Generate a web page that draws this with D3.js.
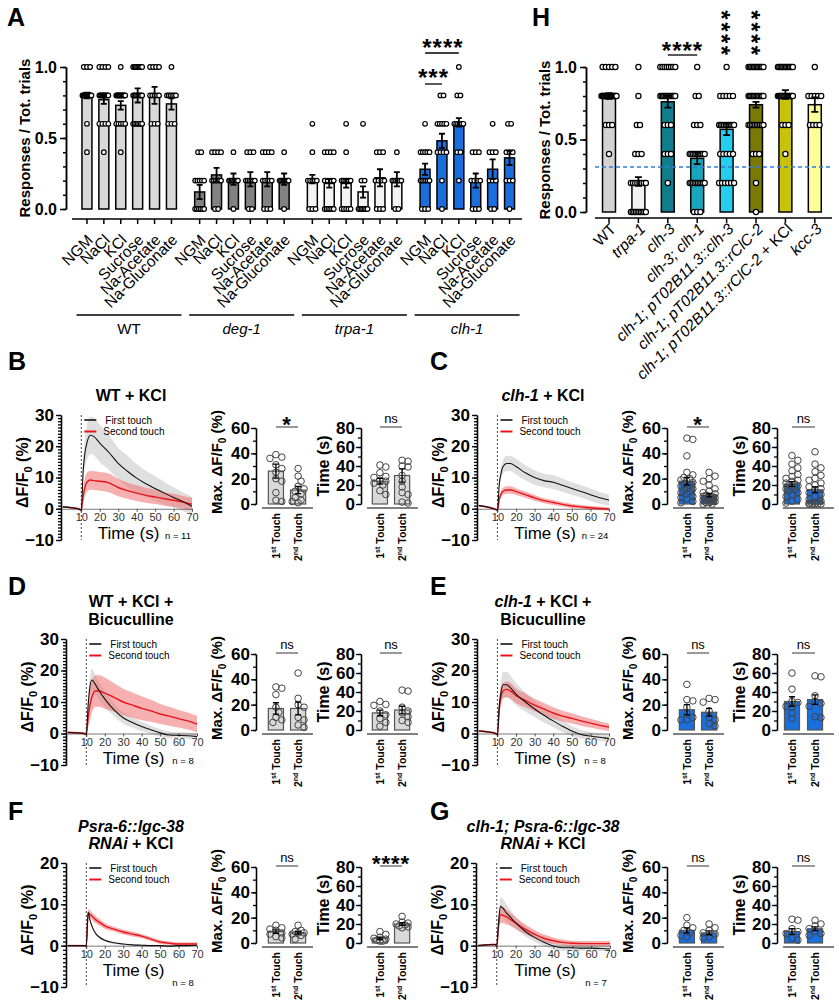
<!DOCTYPE html>
<html>
<head>
<meta charset="utf-8">
<script src="https://cdn.jsdelivr.net/npm/d3@7"></script>
<style>
  body { margin: 0; background: #fff; }
  svg { display: block; font-family: "Liberation Sans", Arial, Helvetica, sans-serif; }
</style>
</head>
<body>
<svg id="fig" width="839" height="1000"></svg>
<script>
// ---------- panel A : response ratio per solution ----------
const aGroups = ["WT", "deg-1", "trpa-1", "clh-1"];
const aConditions = ["NGM", "NaCl", "KCl", "Sucrose", "Na-Acetate", "Na-Gluconate"];
const aMean = [
  [0.80, 0.77, 0.73, 0.80, 0.80, 0.74],
  [0.12, 0.24, 0.21, 0.21, 0.21, 0.21],
  [0.21, 0.18, 0.18, 0.12, 0.22, 0.21],
  [0.28, 0.48, 0.61, 0.20, 0.28, 0.36]];
const aSem = [
  [0.02, 0.03, 0.03, 0.05, 0.06, 0.04],
  [0.05, 0.05, 0.04, 0.05, 0.05, 0.04],
  [0.03, 0.03, 0.03, 0.04, 0.06, 0.05],
  [0.04, 0.05, 0.03, 0.05, 0.07, 0.05]];
// animals per response level, levels = 1.0 0.8 0.6 0.4 0.2 0.0
const levels = [1.0, 0.8, 0.6, 0.4, 0.2, 0.0];
const aCounts = [
  [[3,14,1,1,0,0],[4,10,4,1,0,0],[1,12,5,1,0,0],[8,8,7,0,0,0],[4,5,3,0,0,0],[1,6,3,0,0,0]],
  [[0,0,0,2,5,6],[0,0,0,4,6,2],[0,0,0,1,8,1],[0,0,0,3,6,2],[0,0,0,4,5,3],[0,0,0,1,8,1]],
  [[0,0,1,1,5,3],[0,0,0,4,4,6],[0,0,1,1,6,5],[0,0,1,0,2,7],[0,0,0,3,4,3],[0,0,0,1,6,2]],
  [[0,0,1,5,6,3],[0,2,5,4,1,1],[1,2,6,2,1,0],[0,0,0,3,4,3],[0,0,1,3,3,2],[0,0,2,3,3,1]]];
const aFill = ["#d9d9d9", "#828282", "#f3f3f3", "#1a6fdc"];

// ---------- panel H ----------
const hGenotypes = ["WT", "trpa-1", "clh-3", "clh-3; clh-1", "clh-1; pT02B11.3::clh-3",
  "clh-1; pT02B11.3::rClC-2", "clh-1; pT02B11.3::rClC-2 + KCl", "kcc-3"];
const hMean = [0.80, 0.21, 0.76, 0.37, 0.57, 0.74, 0.81, 0.74];
const hSem = [0.02, 0.03, 0.04, 0.04, 0.04, 0.02, 0.03, 0.05];
const hCounts = [[5,20,3,1,0,0],[1,1,2,3,8,10],[8,12,3,3,1,0],[1,2,3,10,10,3],
  [1,5,10,5,6,0],[12,12,10,3,1,1],[12,15,3,1,0,0],[1,5,4,0,0,0]];
const hThreshold = 0.31;
const hFill = ["#d3d3d3", "#f2f2f2", "#0f7d8b", "#17a6bc", "#25cdee", "#7a7806", "#c9c20b", "#ffff99"];

// ---------- calcium traces (B-G) ----------
const traceT = [0, 5, 9, 10, 11, 12, 13, 15, 17, 20, 25, 30, 35, 40, 45, 50, 55, 60, 65, 70];
const bFirst     = [0.6, 0.3, -0.2, -0.5, 12, 18, 21, 23.5, 23, 21, 18, 14.5, 12, 9.8, 8, 6.5, 5, 3.6, 2.3, 0.8];
const bFirstSem  = [0.3, 0.3, 0.3, 0.3, 3, 4.5, 5.5, 6, 6, 6, 5.5, 5, 5, 4.5, 4.2, 4, 3.6, 3.3, 3, 3];
const bSecond    = [0.6, 0.3, -0.2, -0.5, 4, 7, 8.5, 9.2, 9, 8.8, 8.3, 6.8, 5.8, 5, 4.3, 3.8, 3.2, 2.7, 2.1, 1.5];
const bSecondSem = [0.3, 0.3, 0.3, 0.3, 2, 3, 3, 3, 3, 3, 3, 2.8, 2.6, 2.5, 2.4, 2.3, 2.2, 2.1, 2, 2];
const cFirst     = [1.0, 0.5, -0.2, -0.5, 8, 11.5, 13.5, 14.5, 14.5, 13.5, 11.5, 10, 9, 8.5, 7.5, 6.5, 5.5, 4.5, 3.5, 2.8];
const cFirstSem  = [0.3, 0.3, 0.3, 0.3, 1.5, 2, 2.3, 2.5, 2.5, 2.5, 2.4, 2.3, 2.2, 2.2, 2.1, 2, 2, 2, 1.9, 1.8];
const cSecond    = [1.0, 0.5, -0.2, -0.5, 3, 4.8, 5.6, 6, 6, 5.5, 4.5, 3.5, 2.6, 2, 1.4, 0.9, 0.6, 0.3, 0.1, -0.1];
const cSecondSem = [0.3, 0.3, 0.3, 0.3, 0.8, 1, 1.1, 1.2, 1.2, 1.1, 1, 0.9, 0.8, 0.8, 0.7, 0.7, 0.6, 0.6, 0.6, 0.5];
const dFirst     = [0.3, 0.2, 0, -0.3, 9, 15, 17, 15.5, 13.5, 11, 7.5, 5, 3.5, 2.2, 1.2, 0.2, -0.5, -0.6, -0.7, -1];
const dFirstSem  = [0.3, 0.3, 0.3, 0.3, 2, 3, 3.5, 3, 2.8, 2.5, 2, 1.8, 1.6, 1.5, 1.3, 1.2, 1.1, 1, 1, 1];
const dSecond    = [0.3, 0.2, 0, -0.3, 5, 9, 11.5, 13.5, 13.5, 12.8, 11.5, 10, 9, 8, 7.2, 6.2, 5.5, 4.7, 4, 3];
const dSecondSem = [0.3, 0.3, 0.3, 0.3, 3, 4.5, 5, 5, 5, 5, 4.5, 4.2, 4, 3.8, 3.5, 3.2, 3, 2.8, 2.7, 2.6];
const eFirst     = [0.8, 0.5, 0, -0.4, 9, 13.5, 15.5, 15.5, 14.5, 12.5, 10, 7.8, 5.8, 4, 2.3, 0.8, -0.3, -0.8, -1.2, -1.5];
const eFirstSem  = [0.3, 0.3, 0.3, 0.3, 2.5, 3.5, 4, 4, 3.8, 3.5, 3, 2.6, 2.3, 2, 1.8, 1.6, 1.4, 1.3, 1.2, 1.2];
const eSecond    = [0.8, 0.5, 0, -0.4, 8, 12, 13.5, 14, 13.5, 12, 10.5, 9, 7.8, 6.5, 5.5, 4.8, 4, 3.3, 2.6, 2];
const eSecondSem = [0.3, 0.3, 0.3, 0.3, 2, 2.5, 2.5, 2.5, 2.5, 2.3, 2.2, 2, 1.9, 1.8, 1.7, 1.6, 1.5, 1.4, 1.3, 1.2];
const fFirst     = [0, 0, 0, -0.1, 8, 6.2, 4.8, 3, 2.1, 1.3, 0.7, 0.4, 0.2, 0.1, 0, 0, -0.1, 0, 0, 0.1];
const fFirstSem  = [0.2, 0.2, 0.2, 0.2, 0.6, 0.6, 0.5, 0.4, 0.3, 0.3, 0.3, 0.2, 0.2, 0.2, 0.2, 0.2, 0.2, 0.2, 0.2, 0.2];
const fSecond    = [0, 0, 0, -0.1, 8, 7.6, 7.2, 6.3, 5.7, 4.8, 4, 3.3, 2.8, 2.3, 1.6, 0.9, 0.6, 0.4, 0.4, 0.4];
const fSecondSem = [0.2, 0.2, 0.2, 0.2, 0.8, 0.9, 0.9, 0.9, 0.8, 0.7, 0.6, 0.6, 0.6, 0.5, 0.5, 0.5, 0.4, 0.4, 0.4, 0.4];
const gFirst     = [0, 0.2, 0.3, -0.1, 6, 9.5, 9.2, 8, 7, 5.5, 3.5, 2, 0.8, -0.1, -0.5, -0.5, -0.6, -0.6, -0.7, -0.8];
const gFirstSem  = [0.2, 0.2, 0.2, 0.2, 1.5, 2.3, 2.3, 2, 1.8, 1.5, 1.2, 1, 0.9, 0.8, 0.7, 0.7, 0.6, 0.6, 0.6, 0.6];
const gSecond    = [0, 0.2, 0.3, -0.1, 5, 7.5, 7.4, 7, 6.4, 5.5, 4, 2.8, 1.8, 1.2, 0.8, 0.6, 0.5, 0.5, 0.5, 0.5];
const gSecondSem = [0.2, 0.2, 0.2, 0.2, 1.5, 2, 2, 1.8, 1.6, 1.4, 1.2, 1, 0.9, 0.8, 0.7, 0.6, 0.6, 0.6, 0.6, 0.6];

// ---------- peak amplitude / time bar plots ----------
const touchLabels = ["1st", "2nd"];
const bMaxMean = [26, 11], bMaxSem = [5.5, 2.8];
const bMaxPts = [[39,37,36,31,28,25,20,18,9,2,3], [28,22,18,14,12,10,8,5,3,2,1]];
const bTimeMean = [24, 30], bTimeSem = [3, 7];
const bTimePts = [[41,39,33,29,28,25,24,22,20,14,10], [46,45,40,39,30,24,18,12,10,2,1]];
const cMaxMean = [18, 7], cMaxSem = [3, 1.3];
const cMaxPts = [[52,51,38,25,23,21,20,19,18,17,16,15,14,13,12,11,10,9,8,6,5,4,2,1],
  [25,22,20,18,15,12,10,9,8,7,6,6,5,5,4,4,3,3,2,2,1,1,0,0]];
const cTimeMean = [21, 15], cTimeSem = [2.5, 3];
const cTimePts = [[51,46,42,38,35,31,29,27,25,24,22,21,20,19,18,16,15,14,12,10,8,5,3,1],
  [55,42,38,34,30,27,25,22,20,18,16,15,12,10,8,5,3,2,1,0,0,0,0,0]];
const dMaxMean = [17, 17], dMaxSem = [4.5, 5];
const dMaxPts = [[34,33,28,18,14,10,8,6], [45,25,20,18,10,8,4,2]];
const dTimeMean = [18, 21], dTimeSem = [3, 4];
const dTimePts = [[30,27,26,20,16,12,8,4], [42,41,24,20,18,14,10,8]];
const eMaxMean = [16, 14], eMaxSem = [4, 3];
const eMaxPts = [[36,24,23,18,13,10,8,8], [25,24,22,15,10,8,5,3]];
const eTimeMean = [30, 32], eTimeSem = [5, 5];
const eTimePts = [[60,43,30,29,25,24,18,12], [57,56,36,30,28,25,14,13]];
const fMaxMean = [9, 8], fMaxSem = [1.3, 1];
const fMaxPts = [[14,12,11,10,8,7,5,4], [14,10,9,8,8,7,6,3]];
const fTimeMean = [5, 20], fTimeSem = [1.2, 1.5];
const fTimePts = [[12,9,6,5,4,3,2,2], [28,22,21,20,19,18,17,16]];
const gMaxMean = [10, 8], gMaxSem = [2, 1.5];
const gMaxPts = [[20,14,12,10,8,6,5], [15,12,10,8,7,5,4]];
const gTimeMean = [12, 15], gTimeSem = [3, 2];
const gTimePts = [[25,24,15,12,10,5,3], [24,20,18,15,12,10,8]];

// ================= drawing =================
const svg = d3.select("#fig");
svg.append("rect").attr("width", 839).attr("height", 1000).attr("fill", "#fff");

const styleAxis = (g, w) => {
  g.selectAll("path.domain").attr("stroke", "#000").attr("stroke-width", w);
  g.selectAll(".tick line").attr("stroke", "#000").attr("stroke-width", w);
  g.attr("font-family", null);
};

const addText = (parent, x, y, parts, size, opts = {}) => {
  // parts : [[text, italic], ...]
  const t = parent.append("text").attr("x", x).attr("y", y)
    .attr("font-size", size)
    .attr("font-weight", opts.bold ? "bold" : "normal")
    .attr("text-anchor", opts.anchor || "middle")
    .attr("fill", opts.fill || "#000");
  if (opts.transform) t.attr("transform", opts.transform);
  parts.forEach(([s, it]) => t.append("tspan").attr("font-style", it ? "italic" : "normal").text(s));
  return t;
};

const letter = (x, y, s) => addText(svg, x, y, [[s, false]], 25, { bold: true, anchor: "start" });

const stars = (x, yc, n, size) => {
  // asterisk glyph sits high above baseline
  svg.append("text").attr("x", x).attr("y", yc + size * 0.55)
    .attr("text-anchor", "middle").attr("font-size", size).attr("font-weight", "bold")
    .attr("letter-spacing", 1).text("*".repeat(n));
};

// vertical column of asterisks written as one rotated string
const starColumn = (x, yTop, n, size, step) => {
  const adv = 0.389 * size;
  svg.append("text")
    .attr("transform", `translate(${x - 0.55 * size},${yTop - adv / 2}) rotate(90)`)
    .attr("font-size", size).attr("font-weight", "bold")
    .attr("letter-spacing", step - adv).text("*".repeat(n));
};

// levelled dot layout used in panels A and H
const levelDots = (g, cx, counts, y, maxW, r) => {
  counts.forEach((n, li) => {
    if (!n) return;
    const s = n > 1 ? Math.min(3.2, maxW / (n - 1)) : 0;
    d3.range(n).forEach(i => {
      g.append("circle").attr("cx", cx + (i - (n - 1) / 2) * s).attr("cy", y(levels[li]))
        .attr("r", r).attr("fill", "#fff").attr("stroke", "#000").attr("stroke-width", 1.2);
    });
  });
};

const errBar = (g, cx, y, m, s, cap, w) => {
  const p = d3.path();
  p.moveTo(cx, y(m - s)); p.lineTo(cx, y(m + s));
  p.moveTo(cx - cap, y(m + s)); p.lineTo(cx + cap, y(m + s));
  p.moveTo(cx - cap, y(m - s)); p.lineTo(cx + cap, y(m - s));
  g.append("path").attr("d", p.toString()).attr("stroke", "#000").attr("stroke-width", w).attr("fill", "none");
};

// ---------------- Panel A ----------------
(function panelA() {
  const g = svg.append("g");
  const y = d3.scaleLinear().domain([0, 1]).range([209, 67]);
  const xGroup = d3.scaleBand().domain(aGroups).range([78.5, 78.5 + 4 * 112.7]);
  const xCond = d3.scaleBand().domain(aConditions).range([0, 101.4]).paddingInner(0.41).paddingOuter(0.205);
  const bw = xCond.bandwidth();

  const minor = g.append("g").attr("transform", "translate(66,0)")
    .call(d3.axisLeft(y).ticks(10).tickSize(3).tickSizeOuter(0).tickFormat(""));
  styleAxis(minor, 1.5);
  const major = g.append("g").attr("transform", "translate(66,0)")
    .call(d3.axisLeft(y).tickValues([0, 0.5, 1]).tickSize(6).tickSizeOuter(0).tickFormat(d3.format(".1f")))
    .attr("font-size", 16).attr("font-weight", "bold");
  styleAxis(major, 1.5);
  major.selectAll("text").attr("fill", "#000");
  addText(g, 0, 0, [["Responses / Tot. trials", false]], 15,
    { bold: true, transform: "translate(30,138) rotate(-90)" });

  g.append("line").attr("x1", 72).attr("x2", 522).attr("y1", 219).attr("y2", 219)
    .attr("stroke", "#000").attr("stroke-width", 1.5);

  aGroups.forEach((grp, gi) => {
    aConditions.forEach((c, ci) => {
      const x0 = xGroup(grp) + xCond(c), cx = x0 + bw / 2;
      g.append("rect").attr("x", x0).attr("width", bw)
        .attr("y", y(aMean[gi][ci])).attr("height", y(0) - y(aMean[gi][ci]))
        .attr("fill", aFill[gi]).attr("stroke", "#000").attr("stroke-width", 1.5);
      levelDots(g, cx, aCounts[gi][ci], y, 9, 2.3);
      errBar(g, cx, y, aMean[gi][ci], aSem[gi][ci], 3, 1.8);
      g.append("line").attr("x1", cx).attr("x2", cx).attr("y1", 219).attr("y2", 224)
        .attr("stroke", "#000").attr("stroke-width", 1.5);
      addText(g, 0, 0, [[c, false]], 15.5,
        { anchor: "end", transform: `translate(${cx + 7},${241}) rotate(-45)` });
    });
    const gx0 = xGroup(grp) - 2, gx1 = xGroup(grp) + 103;
    g.append("line").attr("x1", gx0).attr("x2", gx1).attr("y1", 315).attr("y2", 315)
      .attr("stroke", "#000").attr("stroke-width", 1.5);
    addText(g, (gx0 + gx1) / 2, 334, [[grp, gi > 0]], 15);
  });

  // significance, clh-1 group
  const cxOf = (gi, ci) => xGroup(aGroups[gi]) + xCond(aConditions[ci]) + bw / 2;
  stars((cxOf(3, 0) + cxOf(3, 2)) / 2 + 1, 43, 4, 24);
  g.append("line").attr("x1", cxOf(3, 0)).attr("x2", cxOf(3, 2)).attr("y1", 53).attr("y2", 53)
    .attr("stroke", "#000").attr("stroke-width", 1.3);
  stars((cxOf(3, 0) + cxOf(3, 1)) / 2, 73, 3, 24);
  g.append("line").attr("x1", cxOf(3, 0)).attr("x2", cxOf(3, 1)).attr("y1", 84).attr("y2", 84)
    .attr("stroke", "#000").attr("stroke-width", 1.3);
  letter(7, 26, "A");
})();

// ---------------- Panel H ----------------
(function panelH() {
  const g = svg.append("g");
  const y = d3.scaleLinear().domain([0, 1]).range([212, 67]);
  const x = d3.scaleBand().domain(hGenotypes).range([594.3, 829.5]).paddingInner(0.56).paddingOuter(0.28);
  const bw = x.bandwidth();

  const minor = g.append("g").attr("transform", "translate(586,0)")
    .call(d3.axisLeft(y).ticks(10).tickSize(3).tickSizeOuter(0).tickFormat(""));
  styleAxis(minor, 1.5);
  const major = g.append("g").attr("transform", "translate(586,0)")
    .call(d3.axisLeft(y).tickValues([0, 0.5, 1]).tickSize(6).tickSizeOuter(0).tickFormat(d3.format(".1f")))
    .attr("font-size", 16).attr("font-weight", "bold");
  styleAxis(major, 1.5);
  major.selectAll("text").attr("fill", "#000");
  addText(g, 0, 0, [["Responses / Tot. trials", false]], 15,
    { bold: true, transform: "translate(550,140) rotate(-90)" });

  g.append("line").attr("x1", 595).attr("x2", 832).attr("y1", 218).attr("y2", 218)
    .attr("stroke", "#000").attr("stroke-width", 1.5);

  hGenotypes.forEach((gt, i) => {
    const x0 = x(gt), cx = x0 + bw / 2;
    g.append("rect").attr("x", x0).attr("width", bw)
      .attr("y", y(hMean[i])).attr("height", y(0) - y(hMean[i]))
      .attr("fill", hFill[i]).attr("stroke", "#000").attr("stroke-width", 1.5);
    levelDots(g, cx, hCounts[i], y, 15, 2.6);
    errBar(g, cx, y, hMean[i], hSem[i], 3.5, 1.8);
    g.append("line").attr("x1", cx).attr("x2", cx).attr("y1", 218).attr("y2", 223)
      .attr("stroke", "#000").attr("stroke-width", 1.5);
    const parts = gt === "WT" ? [[gt, false]]
      : gt.endsWith(" + KCl") ? [[gt.replace(" + KCl", ""), true], [" + KCl", false]]
      : [[gt, true]];
    addText(g, 0, 0, parts, 15.5, { anchor: "end", transform: `translate(${cx + 8},${230}) rotate(-45)` });
  });

  g.append("line").attr("x1", 595).attr("x2", 832)
    .attr("y1", y(hThreshold)).attr("y2", y(hThreshold))
    .attr("stroke", "#2f7fd8").attr("stroke-width", 1.4).attr("stroke-dasharray", "4,3");

  const c = i => x(hGenotypes[i]) + bw / 2;
  stars((c(2) + c(3)) / 2, 46, 4, 24);
  g.append("line").attr("x1", c(2)).attr("x2", c(3)).attr("y1", 55).attr("y2", 55)
    .attr("stroke", "#000").attr("stroke-width", 1.3);
  [4, 5].forEach(i => starColumn(c(i), 15, 4, 24, 11.8));
  letter(532, 26, "H");
})();

// ---------------- B - G ----------------
const rowsCfg = [
  { top: 415, bot: 540, domain: [-10, 30], ticks: [-10, 0, 10, 20, 30], barTop: 428, barBot: 504, letterY: 370, titleY: [401] },
  { top: 639, bot: 765, domain: [-10, 30], ticks: [-10, 0, 10, 20, 30], barTop: 654, barBot: 730, letterY: 595, titleY: [607, 625] },
  { top: 863, bot: 987, domain: [-10, 20], ticks: [-10, 0, 10, 20], barTop: 867, barBot: 943, letterY: 820, titleY: [832, 849] }];
const colsCfg = [
  { letterX: 8, titleX: 131, traceAxis: [61, 66, 66], trace70: [192, 197, 197], maxAxis: 256, maxOff: [20, 42],
    timeAxis: 361, timeOff: [19, 41], fill: "#d9d9d9" },
  { letterX: 430, titleX: 543, traceAxis: [477, 477, 476], trace70: [609, 609, 610], maxAxis: 667, maxOff: [20, 42],
    timeAxis: 777, timeOff: [15, 38], fill: "#1a6fdc" }];

const panels = [
  { id: "B", row: 0, col: 0, title: [[["WT + KCl", false]]], n: 11,
    tr: [bFirst, bFirstSem, bSecond, bSecondSem],
    max: [bMaxMean, bMaxSem, bMaxPts, "*"], time: [bTimeMean, bTimeSem, bTimePts, "ns"] },
  { id: "C", row: 0, col: 1, title: [[["clh-1", true], [" + KCl", false]]], n: 24,
    tr: [cFirst, cFirstSem, cSecond, cSecondSem],
    max: [cMaxMean, cMaxSem, cMaxPts, "*"], time: [cTimeMean, cTimeSem, cTimePts, "ns"] },
  { id: "D", row: 1, col: 0, title: [[["WT + KCl +", false]], [["Bicuculline", false]]], n: 8,
    tr: [dFirst, dFirstSem, dSecond, dSecondSem],
    max: [dMaxMean, dMaxSem, dMaxPts, "ns"], time: [dTimeMean, dTimeSem, dTimePts, "ns"] },
  { id: "E", row: 1, col: 1, title: [[["clh-1", true], [" + KCl +", false]], [["Bicuculline", false]]], n: 8,
    tr: [eFirst, eFirstSem, eSecond, eSecondSem],
    max: [eMaxMean, eMaxSem, eMaxPts, "ns"], time: [eTimeMean, eTimeSem, eTimePts, "ns"] },
  { id: "F", row: 2, col: 0, title: [[["Psra-6::lgc-38", true]], [["RNAi", true], [" + KCl", false]]], n: 8,
    tr: [fFirst, fFirstSem, fSecond, fSecondSem],
    max: [fMaxMean, fMaxSem, fMaxPts, "ns"], time: [fTimeMean, fTimeSem, fTimePts, "****"] },
  { id: "G", row: 2, col: 1, title: [[["clh-1; Psra-6::lgc-38", true]], [["RNAi", true], [" + KCl", false]]], n: 7,
    tr: [gFirst, gFirstSem, gSecond, gSecondSem],
    max: [gMaxMean, gMaxSem, gMaxPts, "ns"], time: [gTimeMean, gTimeSem, gTimePts, "ns"] }];

// greedy swarm so that dots with similar values do not overlap
const swarm = (vals, y, r, maxOff) => {
  const placed = [];
  vals.map(v => ({ v, py: y(v) })).sort((a, b) => a.py - b.py).forEach(p => {
    let best = 0, bestD = -1;
    for (let k = 0; k < 14; k++) {
      const off = k === 0 ? 0 : (k % 2 ? 1 : -1) * Math.ceil(k / 2) * r * 0.9;
      if (Math.abs(off) > maxOff) break;
      const dmin = d3.min(placed, q => Math.hypot(q.dx - off, q.py - p.py)) ?? 99;
      if (dmin >= r * 1.7) { best = off; bestD = 99; break; }
      if (dmin > bestD) { bestD = dmin; best = off; }
    }
    p.dx = best; placed.push(p);
  });
  return placed;
};

function drawTrace(p) {
  const R = rowsCfg[p.row], C = colsCfg[p.col];
  const ax = C.traceAxis[p.row], x70 = C.trace70[p.row];
  const g = svg.append("g");
  const x = d3.scaleLinear().domain([-1, 70]).range([ax, x70]);
  const y = d3.scaleLinear().domain(R.domain).range([R.bot, R.top]);
  const [m1, s1, m2, s2] = p.tr;
  const band = (m, s) => d3.area().curve(d3.curveMonotoneX)
    .x((d, i) => x(traceT[i])).y0((d, i) => y(m[i] - s[i])).y1((d, i) => y(m[i] + s[i]))(m);
  const line = m => d3.line().curve(d3.curveMonotoneX).x((d, i) => x(traceT[i])).y(d => y(d))(m);

  g.append("path").attr("d", band(m1, s1)).attr("fill", "#d4d4d4").attr("opacity", 0.75);
  g.append("path").attr("d", band(m2, s2)).attr("fill", "#f07070").attr("opacity", 0.55);

  // x axis through zero
  const xa = g.append("g").attr("transform", `translate(0,${y(0)})`)
    .call(d3.axisBottom(x).tickValues([10, 20, 30, 40, 50, 60, 70]).tickSize(3).tickSizeOuter(0))
    .attr("font-size", 11);
  xa.selectAll("path.domain").attr("stroke", "#555").attr("stroke-width", 0.8);
  xa.selectAll(".tick line").attr("stroke", "#555");
  xa.selectAll("text").attr("fill", "#333").attr("dy", "0.55em");

  g.append("line").attr("x1", x(10)).attr("x2", x(10)).attr("y1", R.top).attr("y2", R.bot)
    .attr("stroke", "#444").attr("stroke-width", 1).attr("stroke-dasharray", "2,2");

  g.append("path").attr("d", line(m2)).attr("fill", "none").attr("stroke", "#e8141a").attr("stroke-width", 1.4);
  g.append("path").attr("d", line(m1)).attr("fill", "none").attr("stroke", "#111").attr("stroke-width", 1.1);

  // y axis with dense minor ticks
  const minor = g.append("g").attr("transform", `translate(${ax},0)`)
    .call(d3.axisLeft(y).tickValues(d3.range(R.domain[0], R.domain[1] + 1, 1)).tickSize(3).tickSizeOuter(0).tickFormat(""));
  styleAxis(minor, 1.3);
  const major = g.append("g").attr("transform", `translate(${ax},0)`)
    .call(d3.axisLeft(y).tickValues(R.ticks).tickSize(5).tickSizeOuter(0))
    .attr("font-size", 17).attr("font-weight", "bold");
  styleAxis(major, 1.3);
  major.selectAll("text").attr("fill", "#000").attr("x", -7);

  // legend
  const lx = x(10) + 3, ly = R.top + 5;
  g.append("line").attr("x1", lx).attr("x2", lx + 12).attr("y1", ly).attr("y2", ly).attr("stroke", "#111").attr("stroke-width", 1.6);
  g.append("line").attr("x1", lx).attr("x2", lx + 12).attr("y1", ly + 11.5).attr("y2", ly + 11.5).attr("stroke", "#e8141a").attr("stroke-width", 2);
  addText(g, lx + 21, ly + 3.5, [["First touch", false]], 10, { anchor: "start" });
  addText(g, lx + 19, ly + 15, [["Second touch", false]], 10, { anchor: "start" });

  addText(g, (ax + x70) / 2 + 2, y(0) + 30, [["Time (s)", false]], 17);
  addText(g, x70 - 14, R.bot - 1, [[`n = ${p.n}`, false]], 9.5);
  addText(g, 0, 0, [["ΔF/F", false]], 16, { bold: true, transform: `translate(${ax - 33},${(R.top + R.bot) / 2 - 5}) rotate(-90)` })
    .call(t => {
      t.append("tspan").attr("font-size", 11).attr("dy", 4).text("0");
      t.append("tspan").attr("dy", -4).text(" (%)");
    });

  // title
  p.title.forEach((ln, i) => addText(svg, C.titleX, R.titleY[i], ln, 16, { bold: true }));
  letter(C.letterX, R.letterY, p.id);
}

function drawBars(p, which) {
  const R = rowsCfg[p.row], C = colsCfg[p.col];
  const isMax = which === "max";
  const ax = isMax ? C.maxAxis : C.timeAxis;
  const off = isMax ? C.maxOff : C.timeOff;
  const [mean, sem, pts, sig] = p[which];
  const g = svg.append("g");
  const y = d3.scaleLinear().domain([0, isMax ? 60 : 80]).range([R.barBot, R.barTop]);
  const x = d3.scaleBand().domain(touchLabels).range([ax + off[0] - 11, ax + off[1] + 11])
    .paddingInner((off[1] - off[0] - 15) / (off[1] - off[0])).paddingOuter(0.15);
  const bw = x.bandwidth();

  const minor = g.append("g").attr("transform", `translate(${ax},0)`)
    .call(d3.axisLeft(y).tickValues(d3.range(0, (isMax ? 60 : 80) + 1, 10)).tickSize(3).tickSizeOuter(0).tickFormat(""));
  styleAxis(minor, 1.3);
  const major = g.append("g").attr("transform", `translate(${ax},0)`)
    .call(d3.axisLeft(y).tickValues(isMax ? [0, 20, 40, 60] : [0, 20, 40, 60, 80]).tickSize(5).tickSizeOuter(0))
    .attr("font-size", 17).attr("font-weight", "bold");
  styleAxis(major, 1.3);
  major.selectAll("text").attr("fill", "#000").attr("x", -6);

  g.append("line").attr("x1", ax + 6).attr("x2", ax + 57).attr("y1", R.barBot + 4).attr("y2", R.barBot + 4)
    .attr("stroke", "#555").attr("stroke-width", 1.3);

  touchLabels.forEach((t, i) => {
    const x0 = x(t), cx = x0 + bw / 2;
    g.append("rect").attr("x", x0).attr("width", bw).attr("y", y(mean[i])).attr("height", y(0) - y(mean[i]))
      .attr("fill", C.fill).attr("stroke", "#555").attr("stroke-width", 1.2);
    swarm(pts[i], y, 3.3, bw / 2 + 1).forEach(d => {
      g.append("circle").attr("cx", cx + d.dx).attr("cy", d.py).attr("r", 3.3)
        .attr("fill", "none").attr("stroke", "#444").attr("stroke-width", 1);
    });
    errBar(g, cx, y, mean[i], sem[i], 3, 1.3);
    const lab = g.append("text").attr("transform", `translate(${cx + 4},${R.barBot + 9}) rotate(-90)`)
      .attr("text-anchor", "end").attr("font-size", 10.5).attr("font-weight", "bold");
    lab.append("tspan").text(t[0]);
    lab.append("tspan").attr("font-size", 7).attr("dy", -4).text(t.slice(1));
    lab.append("tspan").attr("dy", 4).text(" Touch");
  });

  const c1 = x(touchLabels[0]) + bw / 2, c2 = x(touchLabels[1]) + bw / 2;
  g.append("line").attr("x1", c1).attr("x2", c2).attr("y1", R.barTop - 1).attr("y2", R.barTop - 1)
    .attr("stroke", "#555").attr("stroke-width", 1.2);
  if (sig === "ns") addText(g, (c1 + c2) / 2, R.barTop - 5, [["ns", false]], 13);
  else stars((c1 + c2) / 2, R.barTop - 8, sig.length, 22);

  const ylab = isMax
    ? addText(g, 0, 0, [["Max. ΔF/F", false]], 15, { bold: true, transform: `translate(${ax - 34},${(R.barTop + R.barBot) / 2 - 4}) rotate(-90)` })
    : addText(g, 0, 0, [["Time (s)", false]], 16, { bold: true, transform: `translate(${ax - 32},${(R.barTop + R.barBot) / 2}) rotate(-90)` });
  if (isMax) {
    ylab.append("tspan").attr("font-size", 10).attr("dy", 4).text("0");
    ylab.append("tspan").attr("dy", -4).text(" (%)");
  }
}

panels.forEach(p => {
  drawTrace(p);
  drawBars(p, "max");
  drawBars(p, "time");
});
</script>
</body>
</html>
